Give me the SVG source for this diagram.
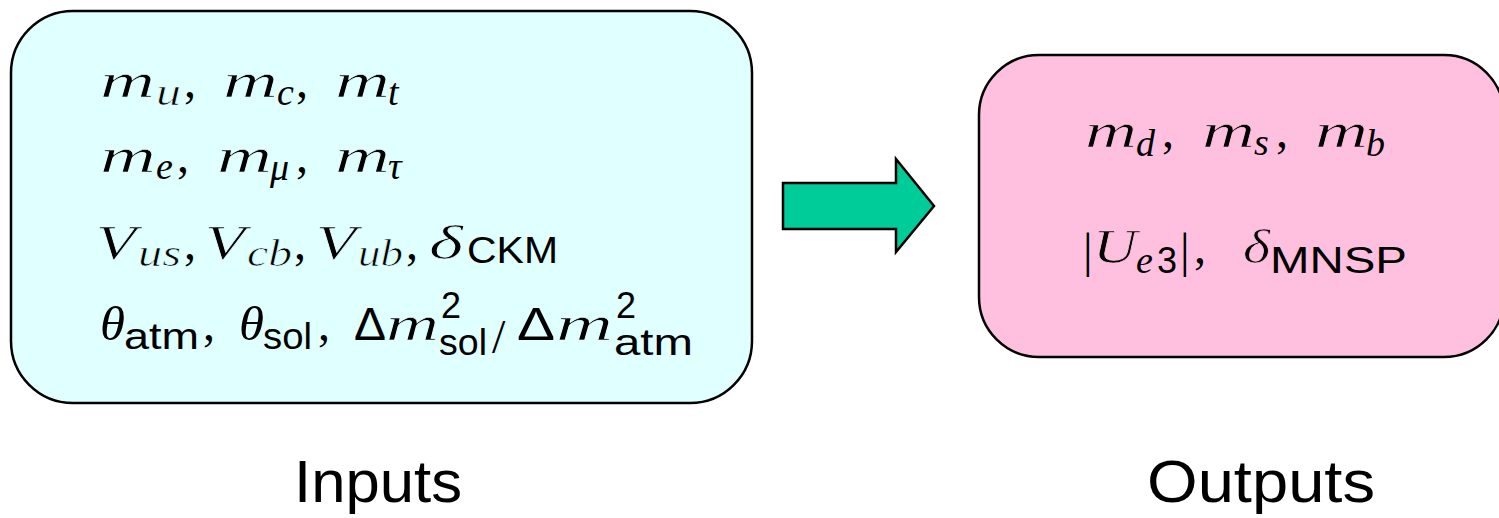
<svg xmlns="http://www.w3.org/2000/svg" width="1499" height="518" viewBox="0 0 1499 518">
<style>
.box{stroke:#000;stroke-width:2.5}
.mi{font-family:"Liberation Serif",serif;font-style:italic;font-size:48px;fill:#000}
.si{font-family:"Liberation Serif",serif;font-style:italic;font-size:38px;fill:#000}
.rm{font-family:"Liberation Serif",serif;font-size:48px;fill:#000}
.ss{font-family:"Liberation Sans",sans-serif;font-size:36px;fill:#000}
.sg{font-family:"Liberation Sans",sans-serif;font-size:46px;fill:#000}
.lbl{font-family:"Liberation Sans",Arial,sans-serif;font-size:59px;fill:#000}
.tl{stroke:#E0FFFF;stroke-width:0.7}
.tr{stroke:#FFC0E0;stroke-width:0.7}
</style>
<rect width="1499" height="518" fill="#fff"/>
<g id="node-inputs">
<rect class="box" x="11" y="11" width="741" height="392" rx="62" ry="62" fill="#E0FFFF"/>
<!-- line 1 -->
<text class="mi tl" x="100" y="97" textLength="55" lengthAdjust="spacingAndGlyphs">m</text>
<text class="si tl" x="156" y="105" textLength="25" lengthAdjust="spacingAndGlyphs">u</text>
<text class="rm" x="184" y="97">,</text>
<text class="mi tl" x="223" y="97" textLength="55" lengthAdjust="spacingAndGlyphs">m</text>
<text class="si" x="277" y="105">c</text>
<text class="rm" x="296" y="97">,</text>
<text class="mi tl" x="335" y="97" textLength="55" lengthAdjust="spacingAndGlyphs">m</text>
<text class="si" x="388" y="105">t</text>
<!-- line 2 -->
<text class="mi tl" x="100" y="172" textLength="56" lengthAdjust="spacingAndGlyphs">m</text>
<text class="si" x="156" y="179">e</text>
<text class="rm" x="177" y="172">,</text>
<text class="mi tl" x="217" y="172" textLength="55" lengthAdjust="spacingAndGlyphs">m</text>
<text class="si" x="270" y="180">μ</text>
<text class="rm" x="296" y="172">,</text>
<text class="mi tl" x="335" y="172" textLength="55" lengthAdjust="spacingAndGlyphs">m</text>
<text class="si" x="388" y="179">τ</text>
<!-- line 3 -->
<text class="mi tl" x="96" y="259" textLength="40" lengthAdjust="spacingAndGlyphs">V</text>
<text class="si tl" x="138" y="266" textLength="43" lengthAdjust="spacingAndGlyphs">us</text>
<text class="rm" x="184" y="259">,</text>
<text class="mi tl" x="205" y="259" textLength="40" lengthAdjust="spacingAndGlyphs">V</text>
<text class="si tl" x="247" y="266" textLength="45" lengthAdjust="spacingAndGlyphs">cb</text>
<text class="rm" x="294" y="259">,</text>
<text class="mi tl" x="316" y="259" textLength="40" lengthAdjust="spacingAndGlyphs">V</text>
<text class="si tl" x="358" y="266" textLength="45" lengthAdjust="spacingAndGlyphs">ub</text>
<text class="rm" x="406" y="259">,</text>
<text class="mi tl" x="429" y="259" textLength="34" lengthAdjust="spacingAndGlyphs">δ</text>
<text class="ss" x="467" y="263" font-size="32" textLength="91" lengthAdjust="spacingAndGlyphs">CKM</text>
<!-- line 4 -->
<text class="mi" x="100" y="340" textLength="25" lengthAdjust="spacingAndGlyphs">θ</text>
<text class="ss" x="124" y="349" font-size="38" textLength="75" lengthAdjust="spacingAndGlyphs">atm</text>
<text class="rm" x="203" y="340">,</text>
<text class="mi" x="239" y="340" textLength="25" lengthAdjust="spacingAndGlyphs">θ</text>
<text class="ss" x="263" y="349" font-size="38" textLength="49" lengthAdjust="spacingAndGlyphs">sol</text>
<text class="rm" x="318" y="340">,</text>
<text class="sg" x="354" y="340" textLength="32" lengthAdjust="spacingAndGlyphs">Δ</text>
<text class="mi tl" x="386" y="340" textLength="53" lengthAdjust="spacingAndGlyphs">m</text>
<text class="ss" x="441" y="318" font-size="34">2</text>
<text class="ss" x="439" y="355" font-size="38" textLength="48" lengthAdjust="spacingAndGlyphs">sol</text>
<text class="rm" x="492" y="353" font-size="54">/</text>
<text class="sg" x="517" y="340" textLength="38" lengthAdjust="spacingAndGlyphs">Δ</text>
<text class="mi tl" x="556" y="340" textLength="57" lengthAdjust="spacingAndGlyphs">m</text>
<text class="ss" x="616" y="318" font-size="34">2</text>
<text class="ss" x="614" y="355" font-size="38" textLength="79" lengthAdjust="spacingAndGlyphs">atm</text>
<text class="lbl" x="294" y="502" textLength="168" lengthAdjust="spacingAndGlyphs">Inputs</text>
</g>
<g id="connectors">
<polygon points="783,183 896,183 896,159 934,206 896,252 896,229 783,229" fill="#00CC99" stroke="#000" stroke-width="2.5" stroke-linejoin="miter"/>
</g>
<g id="node-outputs">
<rect class="box" x="979" y="55" width="525" height="302" rx="60" ry="60" fill="#FFC0E0"/>
<text class="mi tr" x="1085" y="147" textLength="52" lengthAdjust="spacingAndGlyphs">m</text>
<text class="si" x="1136" y="156">d</text>
<text class="rm" x="1162" y="147">,</text>
<text class="mi tr" x="1202" y="147" textLength="53" lengthAdjust="spacingAndGlyphs">m</text>
<text class="si" x="1254" y="155">s</text>
<text class="rm" x="1276" y="147">,</text>
<text class="mi tr" x="1315" y="147" textLength="53" lengthAdjust="spacingAndGlyphs">m</text>
<text class="si" x="1366" y="156">b</text>
<text class="rm" x="1083" y="267" font-size="44">|</text>
<text class="mi tr" x="1093" y="263" textLength="44" lengthAdjust="spacingAndGlyphs">U</text>
<text class="si" x="1136" y="273">e</text>
<text class="ss" x="1157" y="273">3</text>
<text class="rm" x="1180" y="267" font-size="44">|</text>
<text class="rm" x="1194" y="263">,</text>
<text class="mi tr" x="1243" y="263" textLength="27" lengthAdjust="spacingAndGlyphs">δ</text>
<text class="ss" x="1270" y="273" textLength="137" lengthAdjust="spacingAndGlyphs">MNSP</text>
<text class="lbl" x="1147" y="502" textLength="228" lengthAdjust="spacingAndGlyphs">Outputs</text>
</g>
</svg>
